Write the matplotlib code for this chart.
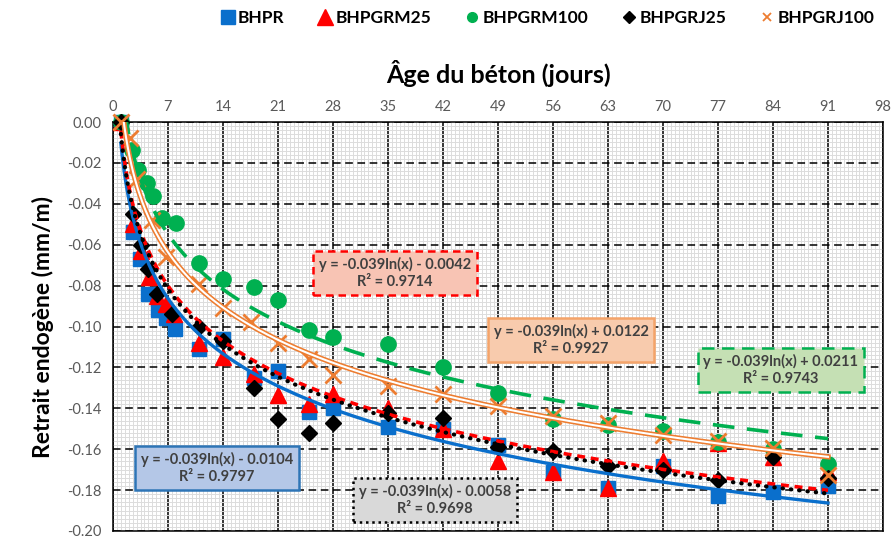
import numpy as np
import matplotlib
matplotlib.use("Agg")
import matplotlib.pyplot as plt
from matplotlib.ticker import MultipleLocator, FormatStrFormatter
from matplotlib.lines import Line2D

plt.rcParams['font.family'] = ['Lato', 'DejaVu Sans']

# ---------------- data ----------------
series_names = ["BHPR", "BHPGRM25", "BHPGRM100", "BHPGRJ25", "BHPGRJ100"]

bhpr_x = [1, 2.6, 3.4, 4.5, 5.7, 6.8, 7.9, 11, 14, 18, 21, 25, 28, 35, 42, 49, 56, 63, 70, 77, 84, 91]
bhpr_y = [0, -0.054, -0.067, -0.084, -0.092, -0.096, -0.101, -0.111, -0.106, -0.125, -0.122, -0.142,
          -0.140, -0.149, -0.150, -0.158, -0.171, -0.179, -0.168, -0.183, -0.181, -0.178]

grm25_x = [1, 2.6, 3.5, 4.6, 5.6, 6.7, 7.8, 11, 14, 18, 21, 25, 28, 35, 42, 49, 56, 63, 70, 77, 84, 91]
grm25_y = [0, -0.050, -0.063, -0.076, -0.085, -0.089, -0.094, -0.108, -0.115, -0.123, -0.1335, -0.138,
           -0.133, -0.140, -0.150, -0.166, -0.171, -0.179, -0.166, -0.157, -0.164, -0.171]

grm100_x = [1, 2.4, 3.2, 4.3, 5.1, 6.2, 8, 11, 14, 18, 21, 25, 28, 35, 42, 49, 56, 63, 70, 77, 84, 91]
grm100_y = [0, -0.0137, -0.0235, -0.030, -0.036, -0.047, -0.0496, -0.0688, -0.077, -0.0805, -0.087,
            -0.1017, -0.105, -0.1086, -0.120, -0.1327, -0.1454, -0.148, -0.151, -0.1563, -0.160, -0.167]

grj25_x = [1, 2.6, 3.5, 4.5, 5.6, 7.5, 11, 14, 18, 21, 25, 28, 35, 42, 49, 56, 63, 70, 77, 84, 91]
grj25_y = [0, -0.045, -0.060, -0.072, -0.084, -0.094, -0.100, -0.107, -0.130, -0.145, -0.152, -0.147,
           -0.1425, -0.1445, -0.159, -0.161, -0.168, -0.170, -0.175, -0.164, -0.174]

grj100_x = [1, 2.2, 3, 4.9, 6.8, 11, 14, 17.5, 21, 25, 28, 35, 42, 49, 56, 63, 70, 77, 84, 91]
grj100_y = [0, -0.008, -0.028, -0.048, -0.066, -0.079, -0.091, -0.098, -0.108, -0.116, -0.1237, -0.129,
            -0.133, -0.139, -0.144, -0.147, -0.153, -0.156, -0.1596, -0.1726]

# trendline y = a*ln(x) + b
trend_a = [-0.039, -0.039, -0.039, -0.039, -0.039]
trend_b = [-0.0104, -0.0042, 0.0211, -0.0058, 0.0122]
trend_r2 = ["0.9797", "0.9714", "0.9743", "0.9698", "0.9927"]

x_ticks = list(range(0, 99, 7))
y_ticks = [0.00, -0.02, -0.04, -0.06, -0.08, -0.10, -0.12, -0.14, -0.16, -0.18, -0.20]

# ---------------- figure ----------------
fig = plt.figure(figsize=(8.92, 5.40), dpi=100)
ax = fig.add_axes([113/892, 1-531/540, (883-113)/892, (531-122)/540])

ax.set_xlim(0, 98)
ax.set_ylim(-0.20, 0.0)

ax.set_xticks(x_ticks)
ax.set_yticks(y_ticks)
ax.xaxis.set_minor_locator(MultipleLocator(0.5))
ax.yaxis.set_minor_locator(MultipleLocator(0.002))
ax.yaxis.set_major_formatter(FormatStrFormatter('%.2f'))

ax.grid(which='minor', color='#dcdcdc', lw=0.7, zorder=0)
ax.grid(which='major', axis='x', color='black', lw=1.1, zorder=1)
ax.grid(which='major', axis='y', color='black', lw=1.1, ls=(0, (5, 3)), zorder=1)
ax.set_axisbelow(True)

ax.xaxis.tick_top()
ax.xaxis.set_label_position('top')
ax.tick_params(axis='both', which='both', length=0, labelsize=10.5, labelcolor='#595959')
ax.tick_params(axis='x', pad=6)
ax.tick_params(axis='y', pad=8)
for sp in ax.spines.values():
    sp.set_color('black')
    sp.set_linewidth(1.1)

ax.set_xlabel("Âge du béton (jours)", fontsize=18, fontweight='bold', labelpad=12)
ax.set_ylabel("Retrait endogène (mm/m)", fontsize=16.5, fontweight='bold', labelpad=10)

blue = '#0A6FCC'
red = '#FF0000'
green = '#00B050'
orange = '#ED7D31'

# markers
ax.plot(bhpr_x, bhpr_y, ls='none', marker='s', ms=10, color=blue, zorder=3, clip_on=False)
ax.plot(grm25_x, grm25_y, ls='none', marker='^', ms=11, color=red, zorder=3, clip_on=False)
ax.plot(grm100_x, grm100_y, ls='none', marker='o', ms=11, color=green, zorder=3, clip_on=False)
ax.plot(grj25_x, grj25_y, ls='none', marker='D', ms=8, color='black', zorder=3, clip_on=False)
ax.plot(grj100_x, grj100_y, ls='none', marker='x', ms=11, mew=2.0, color=orange, zorder=3, clip_on=False)

# trendlines
xt = np.linspace(1, 91, 400)
def tr(i):
    return trend_a[i] * np.log(xt) + trend_b[i]

ax.plot(xt, tr(0), color=blue, lw=2.4, zorder=4)
ax.plot(xt, tr(1), color=red, lw=2.6, ls=(0, (2.2, 1.6)), zorder=4)
ax.plot(xt, tr(2), color=green, lw=2.6, ls=(0, (6, 3.5)), zorder=4)
ax.plot(xt, tr(3), color='black', lw=3.0, ls=(0, (0.1, 1.9)), dash_capstyle='round', zorder=5)
ax.plot(xt, tr(4), color=orange, lw=3.8, zorder=4)
ax.plot(xt, tr(4), color='white', lw=1.5, zorder=4)

# equation boxes
def eq(i):
    b = trend_b[i]
    sign = '-' if b < 0 else '+'
    return f"y = {trend_a[i]:.3f}ln(x) {sign} {abs(b):.4f}\nR² = {trend_r2[i]}"

box_specs = [
    (0, 13.2, -0.1692, '#b4c7e7', '#2E75B6', '-'),
    (1, 35.9, -0.0738, '#f8c4b4', red, (0, (3, 2))),
    (2, 85.0, -0.1213, '#c5e0b4', green, (0, (5, 3))),
    (3, 41.0, -0.1848, '#d9d9d9', 'black', (0, (1, 1.5))),
    (4, 58.3, -0.1066, '#f8cbad', '#F4A46A', '-'),
]
for i, bx, by, fc, ec, ls in box_specs:
    ax.text(bx, by, eq(i), ha='center', va='center', fontsize=10.5, fontweight='bold',
            color='#404040', linespacing=1.3, zorder=6,
            bbox=dict(boxstyle='square,pad=0.4', fc=fc, ec=ec, lw=1.8, ls=ls))

# legend
handles = [
    Line2D([], [], ls='none', marker='s', ms=10, color=blue),
    Line2D([], [], ls='none', marker='^', ms=11, color=red),
    Line2D([], [], ls='none', marker='o', ms=7, color=green),
    Line2D([], [], ls='none', marker='D', ms=6.5, color='black'),
    Line2D([], [], ls='none', marker='x', ms=6, mew=1.3, color=orange),
]
fig.legend(handles, series_names, loc='upper center', bbox_to_anchor=(0.613, 1.01), ncol=5,
           frameon=False, prop=dict(size=12.5, weight='bold'), handletextpad=0.1,
           columnspacing=1.85, handlelength=1.0)

fig.savefig('out.png', dpi=100)
